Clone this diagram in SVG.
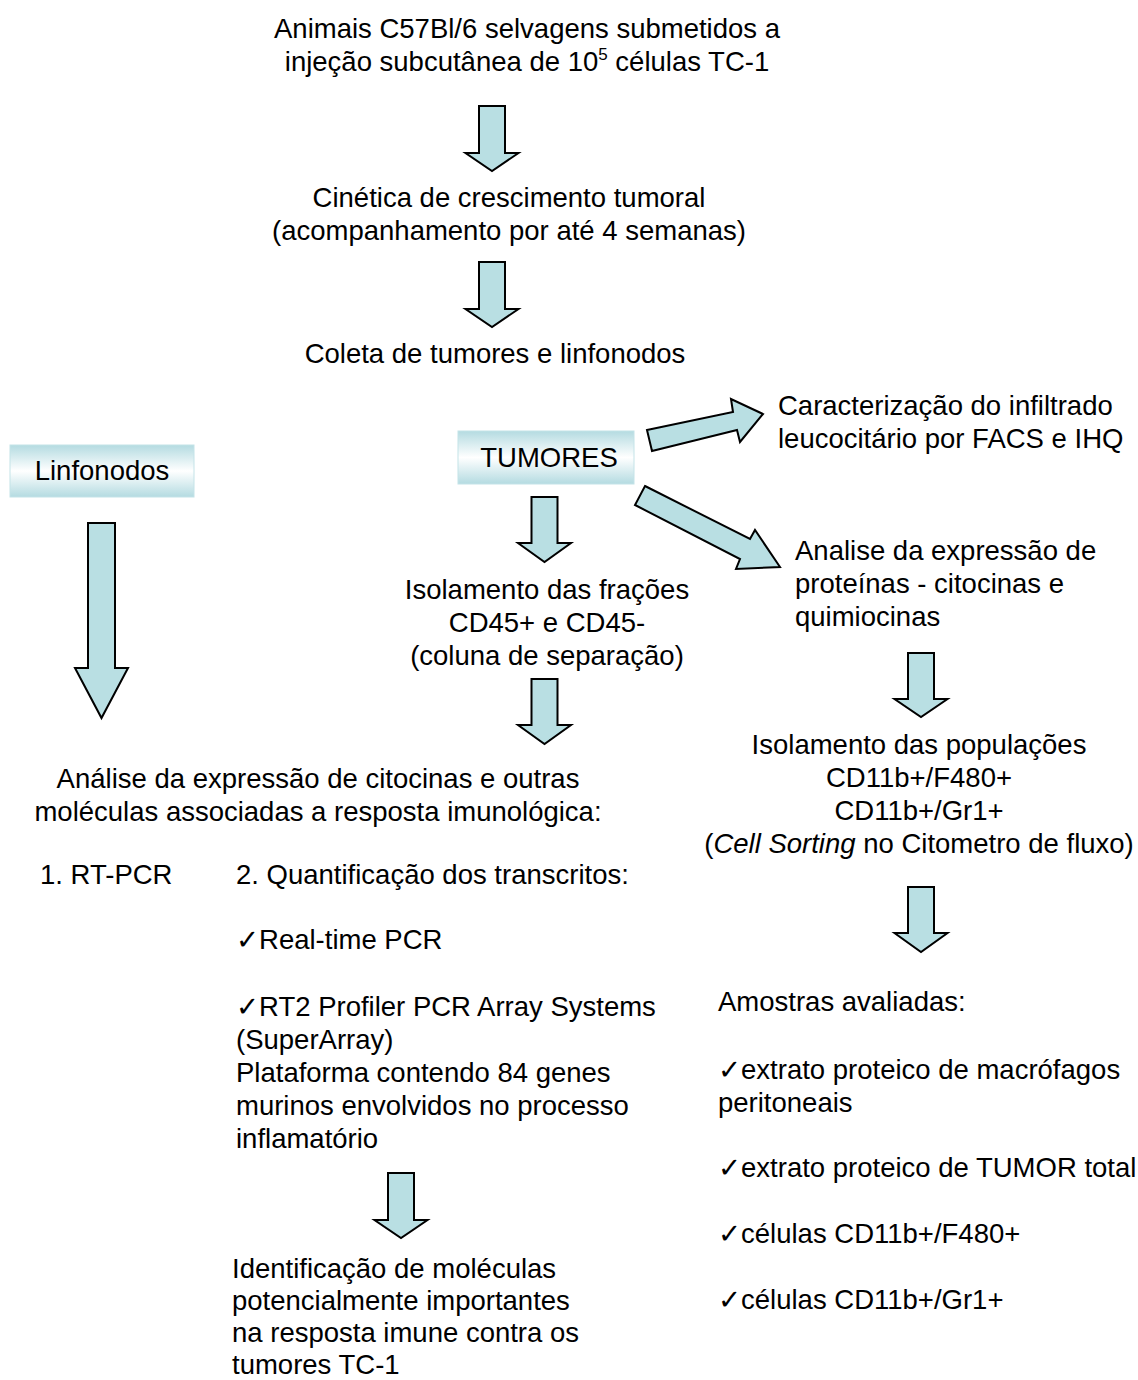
<svg xmlns="http://www.w3.org/2000/svg" width="1138" height="1380" viewBox="0 0 1138 1380">
<defs>
<linearGradient id="boxg" x1="0" y1="0" x2="0" y2="1">
<stop offset="0" stop-color="#b4dbe1"/>
<stop offset="0.5" stop-color="#ffffff"/>
<stop offset="1" stop-color="#b4dbe1"/>
</linearGradient>
<style>
text{font-family:"Liberation Sans",Arial,"DejaVu Sans",sans-serif;font-size:27.5px;fill:#000}
.c{text-anchor:middle}
.arr{fill:#b9dfe3;stroke:#000;stroke-width:2;stroke-linejoin:miter}
.box{fill:url(#boxg);stroke:#c4e3e8;stroke-width:1}
</style>
</defs>
<rect width="1138" height="1380" fill="#fff"/>

<g id="connectors">
<path class="arr" d="M479,106 H505 V153 H518.5 L492,171 L465.5,153 H479 Z"/>
<path class="arr" d="M479,262 H505 V309 H518.5 L492,327 L465.5,309 H479 Z"/>
<path class="arr" d="M88,523 H115 V668 H128 L101.5,718 L75,668 H88 Z"/>
<path class="arr" d="M531.5,497 H557.5 V543 H571 L544.5,562 L518,543 H531.5 Z"/>
<path class="arr" d="M531.5,679 H557.5 V725 H571 L544.5,744 L518,725 H531.5 Z"/>
<path class="arr" d="M908,653 H934 V699 H947.5 L921,717 L894.5,699 H908 Z"/>
<path class="arr" d="M908,887 H934 V933 H947.5 L921,952 L894.5,933 H908 Z"/>
<path class="arr" d="M388,1173 H414 V1220 H427.5 L401,1238 L374.5,1220 H388 Z"/>
<path class="arr" d="M647,430 L733,412 L731,399 L763,414 L740,442 L737,430 L652,451 Z"/>
<path class="arr" d="M645,486 L750,539 L755,530 L780,567 L736,569 L740,559 L635,505 Z"/>
</g>

<g id="n-animais">
<text class="c" x="527" y="38">Animais C57Bl/6 selvagens submetidos a</text>
<text class="c" x="527" y="71">injeção subcutânea de 10<tspan font-size="17" dy="-11">5</tspan><tspan dy="11"> células TC-1</tspan></text>
</g>
<g id="n-cinetica">
<text class="c" x="509" y="207">Cinética de crescimento tumoral</text>
<text class="c" x="509" y="240">(acompanhamento por até 4 semanas)</text>
</g>
<g id="n-coleta">
<text class="c" x="495" y="363">Coleta de tumores e linfonodos</text>
</g>
<g id="n-caracterizacao">
<text x="778" y="415">Caracterização do infiltrado</text>
<text x="778" y="448">leucocitário por FACS e IHQ</text>
</g>
<g id="n-linfonodos">
<rect class="box" x="10" y="445" width="184" height="52"/>
<text class="c" x="102" y="480">Linfonodos</text>
</g>
<g id="n-tumores">
<rect class="box" x="458" y="431" width="176" height="53"/>
<text class="c" x="549" y="467">TUMORES</text>
</g>
<g id="n-isolamento-fracoes">
<text class="c" x="547" y="599">Isolamento das frações</text>
<text class="c" x="547" y="632">CD45+ e CD45-</text>
<text class="c" x="547" y="665">(coluna de separação)</text>
</g>
<g id="n-analise-proteinas">
<text x="795" y="560">Analise da expressão de</text>
<text x="795" y="593">proteínas - citocinas e</text>
<text x="795" y="626">quimiocinas</text>
</g>
<g id="n-isolamento-populacoes">
<text class="c" x="919" y="754">Isolamento das populações</text>
<text class="c" x="919" y="787">CD11b+/F480+</text>
<text class="c" x="919" y="820">CD11b+/Gr1+</text>
<text class="c" x="919" y="853">(<tspan font-style="italic">Cell Sorting</tspan> no Citometro de fluxo)</text>
</g>
<g id="n-analise-citocinas">
<text class="c" x="318" y="788">Análise da expressão de citocinas e outras</text>
<text class="c" x="318" y="821">moléculas associadas a resposta imunológica:</text>
</g>
<g id="n-rtpcr">
<text x="40" y="884">1. RT-PCR</text>
</g>
<g id="n-quantificacao">
<text x="236" y="884">2. Quantificação dos transcritos:</text>
<text x="236" y="949">✓Real-time PCR</text>
<text x="236" y="1016">✓RT2 Profiler PCR Array Systems</text>
<text x="236" y="1049">(SuperArray)</text>
<text x="236" y="1082">Plataforma contendo 84 genes</text>
<text x="236" y="1115">murinos envolvidos no processo</text>
<text x="236" y="1148">inflamatório</text>
</g>
<g id="n-identificacao">
<text x="232" y="1278">Identificação de moléculas</text>
<text x="232" y="1310">potencialmente importantes</text>
<text x="232" y="1342">na resposta imune contra os</text>
<text x="232" y="1374">tumores TC-1</text>
</g>
<g id="n-amostras">
<text x="718" y="1011">Amostras avaliadas:</text>
<text x="718" y="1079">✓extrato proteico de macrófagos</text>
<text x="718" y="1112">peritoneais</text>
<text x="718" y="1177">✓extrato proteico de TUMOR total</text>
<text x="718" y="1243">✓células CD11b+/F480+</text>
<text x="718" y="1309">✓células CD11b+/Gr1+</text>
</g>
</svg>
